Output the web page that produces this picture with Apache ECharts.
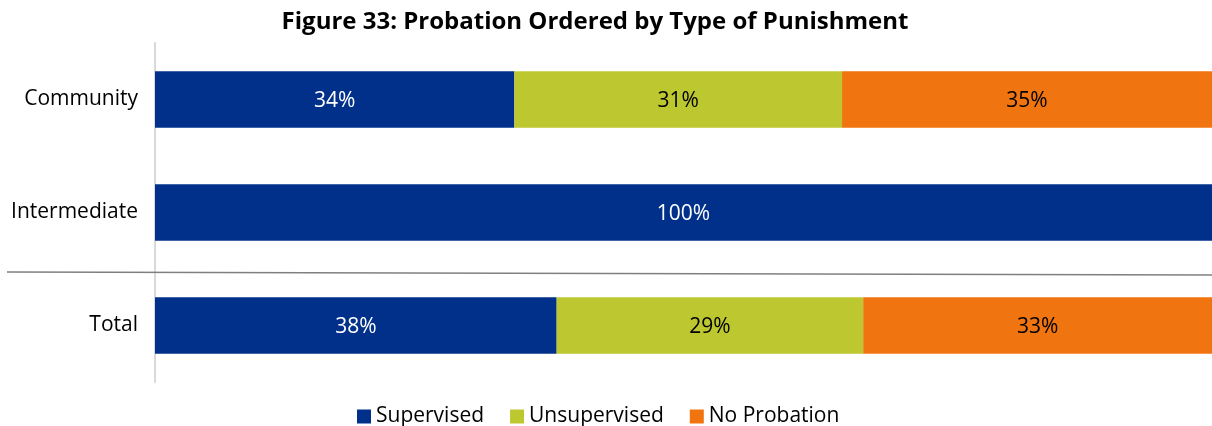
<!DOCTYPE html>
<html>
<head>
<meta charset="utf-8">
<script src="https://cdn.jsdelivr.net/npm/echarts@6/dist/echarts.min.js"></script>
<style>
  html, body { margin: 0; padding: 0; background: #fff; }
  #chart { width: 1212px; height: 426px; }
</style>
</head>
<body>
<div id="chart"></div>
<script>
// Share of probation outcomes by type of punishment (percent)
const categories = ['Community', 'Intermediate', 'Total'];
const supervised = [34, 100, 38];
const unsupervised = [31, 0, 29];
const noProbation = [35, 0, 33];

const FONT = '"Open Sans", "Noto Sans", sans-serif';

const chart = echarts.init(document.getElementById('chart'));

function seriesOf(name, data, color, labelColor) {
  return {
    name: name,
    type: 'bar',
    stack: 'all',
    data: data,
    barWidth: '50%',
    itemStyle: { color: color },
    label: {
      show: true,
      position: 'inside',
      offset: [0, 2],
      color: labelColor,
      fontFamily: FONT,
      fontSize: 21,
      formatter: p => (p.value > 0 ? p.value + '%' : '')
    }
  };
}

chart.setOption({
  animation: false,
  title: {
    text: 'Figure 33: Probation Ordered by Type of Punishment',
    left: 590,
    top: 5,
    textAlign: 'center',
    textStyle: { fontFamily: FONT, fontWeight: 'bold', fontSize: 24, color: '#000' }
  },
  grid: { left: 155, right: 0, top: 43, bottom: 44, containLabel: false },
  xAxis: {
    type: 'value',
    min: 0,
    max: 100,
    show: false
  },
  yAxis: {
    type: 'category',
    data: categories,
    inverse: true,
    axisLine: { show: true, lineStyle: { color: '#d9d9d9', width: 2 } },
    axisTick: { show: false },
    axisLabel: { fontFamily: FONT, fontSize: 21, color: '#000', margin: 17 }
  },
  legend: {
    top: 401,
    left: 352,
    itemWidth: 14,
    itemHeight: 14,
    itemGap: 26,
    icon: 'rect',
    textStyle: { fontFamily: FONT, fontSize: 21, color: '#000' },
    data: ['Supervised', 'Unsupervised', 'No Probation']
  },
  graphic: [{
    type: 'line',
    shape: { x1: 7, y1: 272, x2: 1212, y2: 275 },
    style: { stroke: '#7f7f7f', lineWidth: 1.5 },
    z: 10
  }],
  series: [
    seriesOf('Supervised', supervised, '#00308A', '#fff'),
    seriesOf('Unsupervised', unsupervised, '#BDC72F', '#000'),
    seriesOf('No Probation', noProbation, '#F07511', '#000')
  ]
});
</script>
</body>
</html>
